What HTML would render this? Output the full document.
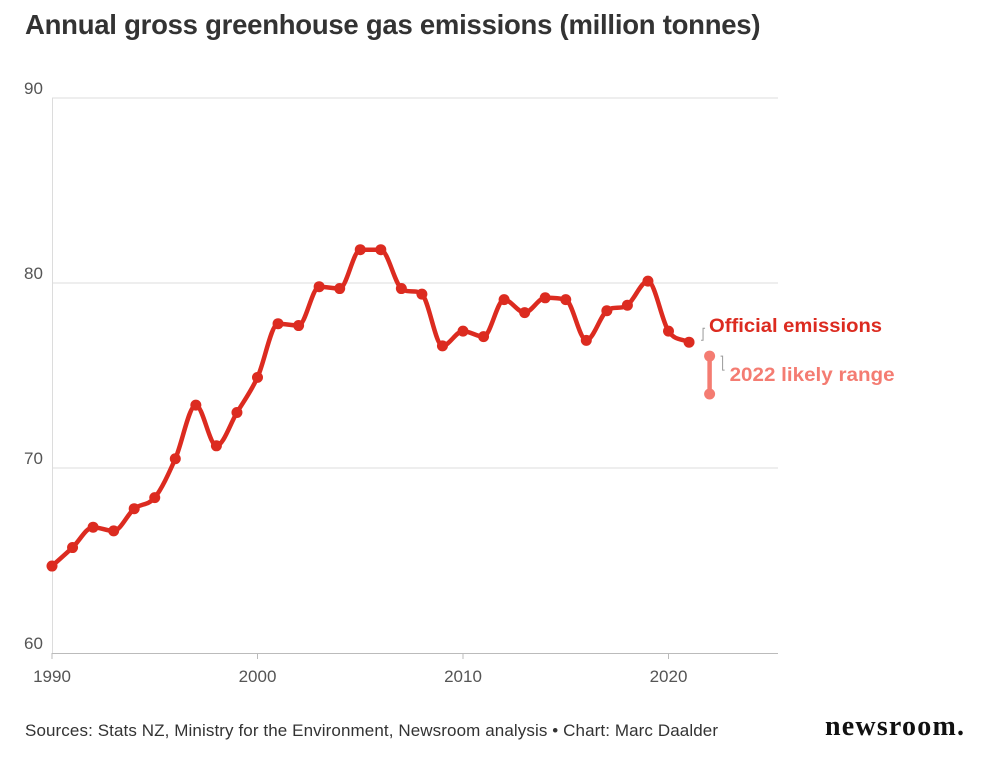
<!DOCTYPE html>
<html><head><meta charset="utf-8">
<style>
body{margin:0;background:#fff;font-family:"Liberation Sans",sans-serif;}
#wrap{position:relative;width:988px;height:758px;overflow:hidden;}
h1{position:absolute;left:25px;top:9px;margin:0;font-size:27.5px;font-weight:bold;color:#333;letter-spacing:-0.25px;white-space:nowrap;}
.src{position:absolute;left:25px;top:721px;font-size:17px;color:#333;white-space:nowrap;letter-spacing:0.1px;}
.logo{position:absolute;left:825px;top:711px;font-family:"Liberation Serif",serif;font-size:28px;font-weight:bold;color:#111;letter-spacing:1.2px;}
</style></head><body>
<div id="wrap">
<h1>Annual gross greenhouse gas emissions (million tonnes)</h1>
<svg id="chart" width="988" height="758" style="position:absolute;left:0;top:0"></svg>
<div class="src">Sources: Stats NZ, Ministry for the Environment, Newsroom analysis • Chart: Marc Daalder</div>
<div class="logo">newsroom.</div>
</div>
<script>
const years=[1990,1991,1992,1993,1994,1995,1996,1997,1998,1999,2000,2001,2002,2003,2004,2005,2006,2007,2008,2009,2010,2011,2012,2013,2014,2015,2016,2017,2018,2019,2020,2021];
const emissions=[64.7,65.7,66.8,66.6,67.8,68.4,70.5,73.4,71.2,73.0,74.9,77.8,77.7,79.8,79.7,81.8,81.8,79.7,79.4,76.6,77.4,77.1,79.1,78.4,79.2,79.1,76.9,78.5,78.8,80.1,77.4,76.8];
const rangeYear=2022;
const rangeValues=[74.0,76.05];
const yTicks=[60,70,80,90];
const xTicks=[1990,2000,2010,2020];
const NS="http://www.w3.org/2000/svg";
const svg=document.getElementById('chart');
const x=v=>52+(v-1990)*20.55;
const y=v=>653-(v-60)*18.5;
function mk(t,a,p){const e=document.createElementNS(NS,t);for(const k in a)e.setAttribute(k,a[k]);(p||svg).appendChild(e);return e;}
yTicks.forEach(t=>{
 if(t>60){const g=mk('line',{x1:52,x2:778,y1:y(t),y2:y(t),stroke:'#dcdcdc','stroke-width':1});
 
 }
 const l=mk('text',{x:24,y:y(t)-4,'font-size':17,fill:'#555'});l.textContent=t;
 
 
});
const ax=mk('line',{x1:52,x2:778,y1:653.5,y2:653.5,stroke:'#bbb','stroke-width':1});


const ay=mk('line',{x1:52.5,x2:52.5,y1:98,y2:653,stroke:'#dcdcdc','stroke-width':1});


xTicks.forEach(t=>{
 const tk=mk('line',{x1:x(t),x2:x(t),y1:653,y2:659,stroke:'#bbb'});
 
 
 const l=mk('text',{x:x(t),y:682,'font-size':17,fill:'#555','text-anchor':'middle'});l.textContent=t;
 
 
});
const pts=years.map((yr,i)=>[x(yr),y(emissions[i])]);
const n=pts.length,dx=[],sl=[],m=[];
for(let i=0;i<n-1;i++){dx[i]=pts[i+1][0]-pts[i][0];sl[i]=(pts[i+1][1]-pts[i][1])/dx[i];}
m[0]=sl[0];m[n-1]=sl[n-2];
for(let i=1;i<n-1;i++){m[i]=(sl[i-1]*sl[i]<=0)?0:(sl[i-1]+sl[i])/2;
 const a=m[i]/sl[i-1],b=m[i]/sl[i];if(sl[i-1]*sl[i]>0){const s=a*a+b*b;if(s>9){const t=3/Math.sqrt(s);m[i]=t*a*sl[i-1];}}}
let d='M'+pts[0][0]+','+pts[0][1];
for(let i=0;i<n-1;i++){const h=dx[i]/3;
 d+=` C${pts[i][0]+h},${pts[i][1]+m[i]*h} ${pts[i+1][0]-h},${pts[i+1][1]-m[i+1]*h} ${pts[i+1][0]},${pts[i+1][1]}`;}
const line=mk('path',{d:d,fill:'none',stroke:'#dc2b20','stroke-width':4.5,'stroke-linejoin':'round'});


pts.forEach((p,i)=>{const c=mk('circle',{cx:p[0],cy:p[1],r:5.5,fill:'#dc2b20'});
 
 });
const rx=x(rangeYear);
const rl=mk('line',{x1:rx,x2:rx,y1:y(rangeValues[0]),y2:y(rangeValues[1]),stroke:'#f47c72','stroke-width':4.5});


rangeValues.forEach((v,i)=>{const c=mk('circle',{cx:rx,cy:y(v),r:5.5,fill:'#f47c72'});
 
 });
const last=pts[pts.length-1];
const b1=mk('path',{d:`M${last[0]+12},${last[1]-2} l2,0 l0,-12 l2,0`,fill:'none',stroke:'#999','stroke-width':1});


const t1=mk('text',{x:last[0]+20,y:last[1]-10,'font-size':19,'font-weight':'bold',fill:'#dc2b20',textLength:173,lengthAdjust:'spacingAndGlyphs'});t1.textContent='Official emissions';


const ry=y(rangeValues[1]);
const b2=mk('path',{d:`M${rx+11},${ry} l2,0 l0,14 l2,0`,fill:'none',stroke:'#999','stroke-width':1});


const t2=mk('text',{x:rx+20,y:ry+25,'font-size':19,'font-weight':'bold',fill:'#f47c72',textLength:165,lengthAdjust:'spacingAndGlyphs'});t2.textContent='2022 likely range';


</script>
</body></html>
